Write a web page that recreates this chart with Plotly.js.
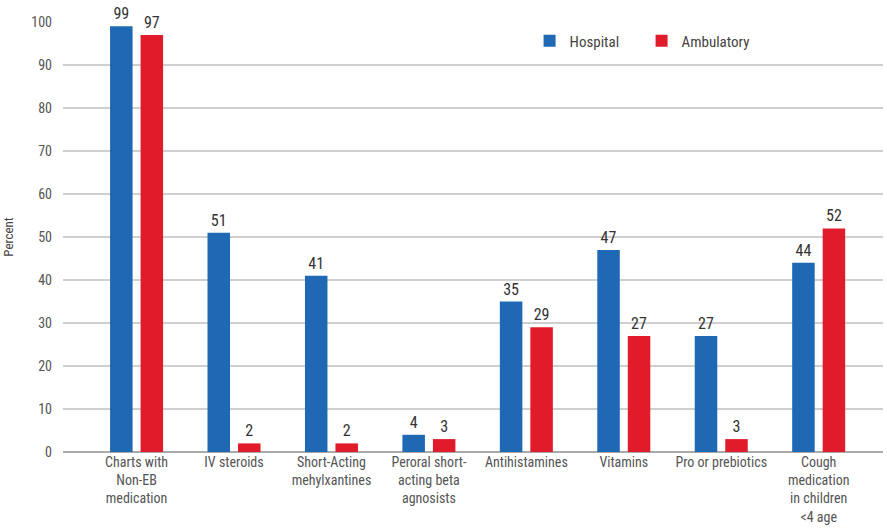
<!DOCTYPE html>
<html>
<head>
<meta charset="utf-8">
<script src="https://cdn.plot.ly/plotly-3.0.1.min.js"></script>
<style>html,body{margin:0;padding:0;background:#fff;}#chart{width:887px;height:531px;}</style>
</head>
<body>
<div id="chart"></div>
<script>
var categories = ["Charts with<br>Non-EB<br>medication", "IV steroids", "Short-Acting<br>mehylxantines", "Peroral short-<br>acting beta<br>agnosists", "Antihistamines", "Vitamins", "Pro or prebiotics", "Cough<br>medication<br>in children<br>&lt;4 age"];
var hospital = [99, 51, 41, 4, 35, 47, 27, 44];
var ambulatory = [97, 2, 2, 3, 29, 27, 3, 52];
var yTicks = [0, 10, 20, 30, 40, 50, 60, 70, 80, 90, 100];

var FONT = "'Liberation Sans Narrow', 'Arial Narrow', 'Roboto Condensed', sans-serif";
var idx = categories.map(function(_, i){ return i; });

var traces = [
  {type: "bar", name: "Hospital", x: idx, y: hospital, text: hospital.map(String),
   textposition: "outside", cliponaxis: false, marker: {color: "#1f68b3"},
   textfont: {family: FONT, size: 16, color: "#333"}},
  {type: "bar", name: "Ambulatory", x: idx, y: ambulatory, text: ambulatory.map(String),
   textposition: "outside", cliponaxis: false, marker: {color: "#e01b2a"},
   textfont: {family: FONT, size: 16, color: "#333"}}
];

var layout = {
  width: 887, height: 531,
  margin: {l: 63, r: 4, t: 22, b: 79},
  paper_bgcolor: "#fff", plot_bgcolor: "#fff",
  font: {family: FONT, size: 14, color: "#555"},
  barmode: "group", bargap: 0.374, bargroupgap: 0.262,
  showlegend: true,
  legend: {orientation: "h", x: 0.569, y: 0.956, xanchor: "left", yanchor: "middle",
           font: {family: FONT, size: 15, color: "#444"}, itemwidth: 30, traceorder: "normal",
           entrywidth: 67, entrywidthmode: "pixels"},
  xaxis: {range: [-0.755, 7.66], tickvals: idx, ticktext: categories, showgrid: false,
          zeroline: false, showline: false, ticks: "", tickfont: {family: FONT, size: 14, color: "#555"}},
  yaxis: {range: [0, 100], tickvals: yTicks, showgrid: true, gridcolor: "#cfcfcf", gridwidth: 1.5,
          zeroline: true, zerolinecolor: "#aaa", zerolinewidth: 1.5, ticks: "", ticklabelstandoff: 10,
          tickfont: {family: FONT, size: 14, color: "#555"},
          title: {text: "Percent", font: {family: FONT, size: 13, color: "#444"}, standoff: 14}}
};

Plotly.newPlot("chart", traces, layout, {displayModeBar: false, staticPlot: true});
</script>
</body>
</html>
